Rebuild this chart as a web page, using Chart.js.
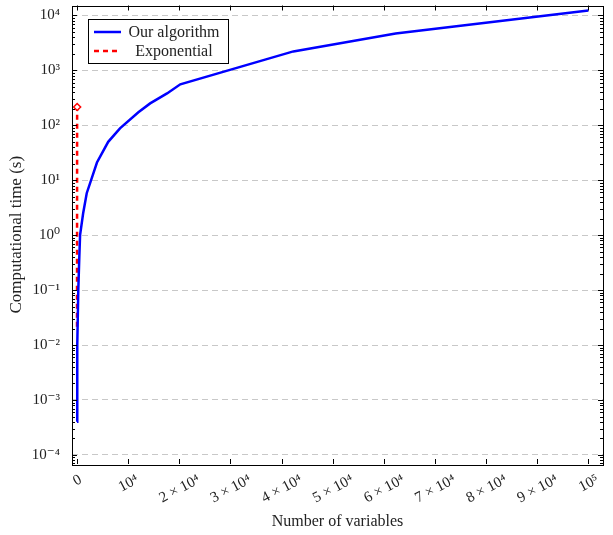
<!DOCTYPE html>
<html>
<head>
<meta charset="utf-8">
<script src="https://cdn.jsdelivr.net/npm/chart.js@4"></script>
<style>
  body { margin: 0; background: #fff; }
  #wrap { width: 613px; height: 535px; }
</style>
</head>
<body>
<div id="wrap"><canvas id="chart" width="613" height="535"></canvas></div>
<script>
// values
const algoVars = [0, 50, 250, 450, 600, 1200, 1900, 3900, 6100, 8400, 12000, 14300, 17600, 20200, 42300, 62300, 100000];
const algoTime = [0.0004, 0.01, 0.1, 0.4, 1.0, 2.5, 5.8, 21, 50, 88, 172, 250, 380, 556, 2210, 4700, 12300];
const expVars = [5, 10, 15, 20, 25];
const expTime = [0.0215, 0.3, 4, 50, 215];
const seriesNames = ['Our algorithm', 'Exponential'];
const xTicks = [0, 10000, 20000, 30000, 40000, 50000, 60000, 70000, 80000, 90000, 100000];
const yTicks = [1e-4, 1e-3, 1e-2, 1e-1, 1, 10, 100, 1000, 10000];

const serif = '"Liberation Serif", "DejaVu Serif", serif';
const sup = {'0':'⁰','1':'¹','2':'²','3':'³','4':'⁴','5':'⁵','6':'⁶','7':'⁷','8':'⁸','9':'⁹','-':'⁻'};
const toSup = s => String(s).split('').map(c => sup[c] || c).join('');

function xLabel(v) {
    if (v === 0) return '0';
    const e = Math.floor(Math.log10(v) + 1e-9);
    const m = Math.round(v / Math.pow(10, e));
    return (m === 1 ? '' : m + ' × ') + '10' + toSup(e);
}
function yLabel(v) {
    return '10' + toSup(Math.round(Math.log10(v)));
}

const framePlugin = {
    id: 'frame',
    afterDatasetsDraw(chart) {
        const c = chart.ctx, a = chart.chartArea;
        const xs = chart.scales.x, ys = chart.scales.y;
        c.save();
        c.strokeStyle = '#000';
        c.lineWidth = 1;
        c.setLineDash([]);
        c.beginPath();
        // y major + minor ticks, both sides, pointing inward
        for (let k = -5; k <= 4; k++) {
            for (let m = 1; m <= 9; m++) {
                const v = m * Math.pow(10, k);
                if (v < ys.min || v > ys.max) continue;
                const y = Math.round(ys.getPixelForValue(v)) + 0.5;
                const len = m === 1 ? 5 : 3;
                c.moveTo(a.left, y); c.lineTo(a.left + len, y);
                c.moveTo(a.right, y); c.lineTo(a.right - len, y);
            }
        }
        xTicks.forEach(v => {
            const x = Math.round(xs.getPixelForValue(v)) + 0.5;
            c.moveTo(x, a.bottom); c.lineTo(x, a.bottom - 5);
            c.moveTo(x, a.top); c.lineTo(x, a.top + 5);
        });
        c.stroke();
        c.strokeRect(Math.round(a.left) + 0.5, Math.round(a.top) + 0.5, Math.round(a.right - a.left), Math.round(a.bottom - a.top));

        // rotated x tick labels, bounding box centred under the tick
        const th = 28 * Math.PI / 180, h = 11;
        c.fillStyle = '#222';
        c.font = '15px ' + serif;
        c.textAlign = 'center';
        c.textBaseline = 'middle';
        xTicks.forEach(v => {
            const txt = xLabel(v);
            const w = c.measureText(txt).width;
            const H = w * Math.sin(th) + h * Math.cos(th);
            c.save();
            c.translate(xs.getPixelForValue(v), a.bottom + 9 + H / 2);
            c.rotate(-th);
            c.fillText(txt, 0, 1);
            c.restore();
        });

        // legend box
        const lx = 88, ly = 19, lw = 140, lh = 44;
        c.fillStyle = '#fff';
        c.fillRect(lx, ly, lw, lh);
        c.strokeRect(lx + 0.5, ly + 0.5, lw, lh);
        chart.data.datasets.forEach((ds, i) => {
            const y = ly + 13 + i * 19;
            c.strokeStyle = ds.borderColor;
            c.lineWidth = 2.5;
            c.setLineDash(ds.borderDash || []);
            c.beginPath();
            c.moveTo(lx + 6, y); c.lineTo(lx + 33, y);
            c.stroke();
            c.setLineDash([]);
            c.fillStyle = '#222';
            c.font = '16px ' + serif;
            c.textAlign = 'center';
            c.textBaseline = 'middle';
            c.fillText(ds.label, lx + 86, y + 1);
        });
        c.restore();
    }
};

const ctx = document.getElementById('chart').getContext('2d');
new Chart(ctx, {
    type: 'line',
    data: {
        datasets: [
            {
                label: seriesNames[0],
                data: algoVars.map((x, i) => ({x, y: algoTime[i]})),
                borderColor: '#0000ff', borderWidth: 2.5, pointRadius: 0, tension: 0
            },
            {
                label: seriesNames[1],
                data: expVars.map((x, i) => ({x, y: expTime[i]})),
                borderColor: '#ff0000', borderWidth: 2.5, borderDash: [5, 4], tension: 0,
                pointStyle: 'rectRot', backgroundColor: '#fff', pointBorderColor: '#ff0000',
                pointBorderWidth: 1.5, pointRadius: expVars.map((x, i) => i === expVars.length - 1 ? 3.5 : 0)
            }
        ]
    },
    options: {
        responsive: false,
        animation: false,
        layout: { padding: { top: 5, right: 10, left: 0, bottom: 0 } },
        plugins: { legend: { display: false }, tooltip: { enabled: false } },
        scales: {
            x: {
                type: 'linear', min: -980, max: 102850,
                afterBuildTicks: s => { s.ticks = xTicks.map(v => ({value: v})); },
                afterFit: s => { s.height = 71; s.paddingLeft = 0; s.paddingRight = 0; },
                grid: { display: false, drawTicks: false },
                border: { display: false },
                ticks: { display: false },
                title: { display: true, text: 'Number of variables', color: '#222', font: { family: serif, size: 16 }, padding: { top: 0, bottom: 4 } }
            },
            y: {
                type: 'logarithmic', min: Math.pow(10, -4.165), max: Math.pow(10, 4.18),
                afterBuildTicks: s => { s.ticks = yTicks.map(v => ({value: v})); },
                afterFit: s => { s.width = 72; s.paddingTop = 0; s.paddingBottom = 0; },
                grid: { color: '#c8c8c8', lineWidth: 1, drawTicks: false },
                border: { display: false, dash: [6, 4] },
                ticks: { callback: v => yLabel(v), padding: 12, color: '#222', font: { family: serif, size: 15 } },
                title: { display: true, text: 'Computational time (s)', color: '#222', font: { family: serif, size: 17 }, padding: { top: 6, bottom: 0 } }
            }
        }
    },
    plugins: [framePlugin]
});
</script>
</body>
</html>
